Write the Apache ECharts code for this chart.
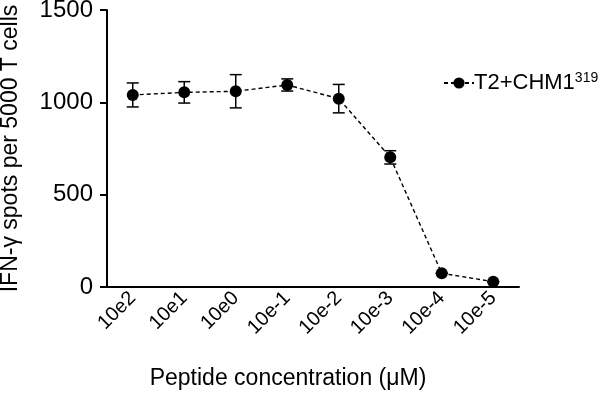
<!DOCTYPE html>
<html>
<head>
<meta charset="utf-8">
<script src="https://cdn.jsdelivr.net/npm/echarts@6/dist/echarts.min.js"></script>
<style>
  html, body { margin: 0; padding: 0; background: #fff; }
  #chart { width: 600px; height: 399px; }
</style>
</head>
<body>
<div id="chart"></div>
<script>
// 数据
var categories = ['10e2', '10e1', '10e0', '10e-1', '10e-2', '10e-3', '10e-4', '10e-5'];
var meanValues = [1040, 1054, 1060, 1094, 1020, 702, 74, 29];
var errValues = [65, 58, 90, 33, 77, 36, 0, 0];
var yTicks = [0, 500, 1000, 1500];

var font = '"Liberation Sans", Arial, sans-serif';

// 误差棒数据 [索引, 下限, 上限]
var errData = meanValues.map(function (v, i) {
    return [i, v - errValues[i], v + errValues[i]];
});

var myChart = echarts.init(document.getElementById('chart'));
myChart.setOption({
    animation: false,
    grid: {
        left: 107,
        right: 81,
        top: 10,
        bottom: 112,
        outerBoundsMode: 'none' // 不让网格因标签自动收缩
    },
    legend: {
        left: 438,
        top: 66,
        itemWidth: 30,
        itemHeight: 14,
        itemGap: 2,
        data: ['T2+CHM1'],
        formatter: function () {
            return '{a|T2+CHM1}{b|319}';
        },
        textStyle: {
            color: '#000',
            fontFamily: font,
            padding: [0, 0, 0, -5],
            rich: {
                a: { fontSize: 22, fontFamily: font, color: '#000' },
                b: { fontSize: 14, fontFamily: font, color: '#000', padding: [0, 0, 10, 0] }
            }
        }
    },
    xAxis: {
        type: 'category',
        data: categories,
        name: 'Peptide concentration (μM)',
        nameLocation: 'middle',
        nameGap: 80,
        nameTextStyle: {
            fontSize: 23,
            fontFamily: font,
            color: '#000',
            padding: [0, 50, 0, 0]
        },
        axisLine: { lineStyle: { color: '#000', width: 2 } },
        axisTick: { alignWithLabel: true, length: 7, lineStyle: { color: '#000', width: 2 } },
        axisLabel: {
            rotate: 45,
            fontSize: 20,
            fontFamily: font,
            color: '#000',
            margin: 8
        },
        splitLine: { show: false }
    },
    yAxis: {
        type: 'value',
        min: 0,
        max: 1500,
        interval: 500,
        name: 'IFN-γ spots per 5000 T cells',
        nameLocation: 'middle',
        nameGap: 85,
        nameTextStyle: {
            fontSize: 23,
            fontFamily: font,
            color: '#000'
        },
        axisLine: { show: true, lineStyle: { color: '#000', width: 2 } },
        axisTick: { show: true, length: 7, lineStyle: { color: '#000', width: 2 } },
        axisLabel: {
            fontSize: 24,
            fontFamily: font,
            color: '#000',
            margin: 14,
            formatter: function (v) {
                return yTicks.indexOf(v) >= 0 ? String(v) : '';
            }
        },
        splitLine: { show: false }
    },
    series: [
        {
            name: 'T2+CHM1',
            type: 'line',
            data: meanValues,
            symbol: 'circle',
            symbolSize: 12,
            itemStyle: { color: '#000' },
            lineStyle: { color: '#000', width: 1.4, type: [4, 3] },
            z: 3
        },
        {
            // 误差棒
            type: 'custom',
            data: errData,
            renderItem: function (params, api) {
                var x = api.value(0);
                var lo = api.coord([x, api.value(1)]);
                var hi = api.coord([x, api.value(2)]);
                var cap = 6;
                var style = { stroke: '#000', lineWidth: 1.5 };
                return {
                    type: 'group',
                    children: [
                        { type: 'line', shape: { x1: lo[0], y1: lo[1], x2: hi[0], y2: hi[1] }, style: style },
                        { type: 'line', shape: { x1: hi[0] - cap, y1: hi[1], x2: hi[0] + cap, y2: hi[1] }, style: style },
                        { type: 'line', shape: { x1: lo[0] - cap, y1: lo[1], x2: lo[0] + cap, y2: lo[1] }, style: style }
                    ]
                };
            },
            z: 2
        }
    ]
});
</script>
</body>
</html>
